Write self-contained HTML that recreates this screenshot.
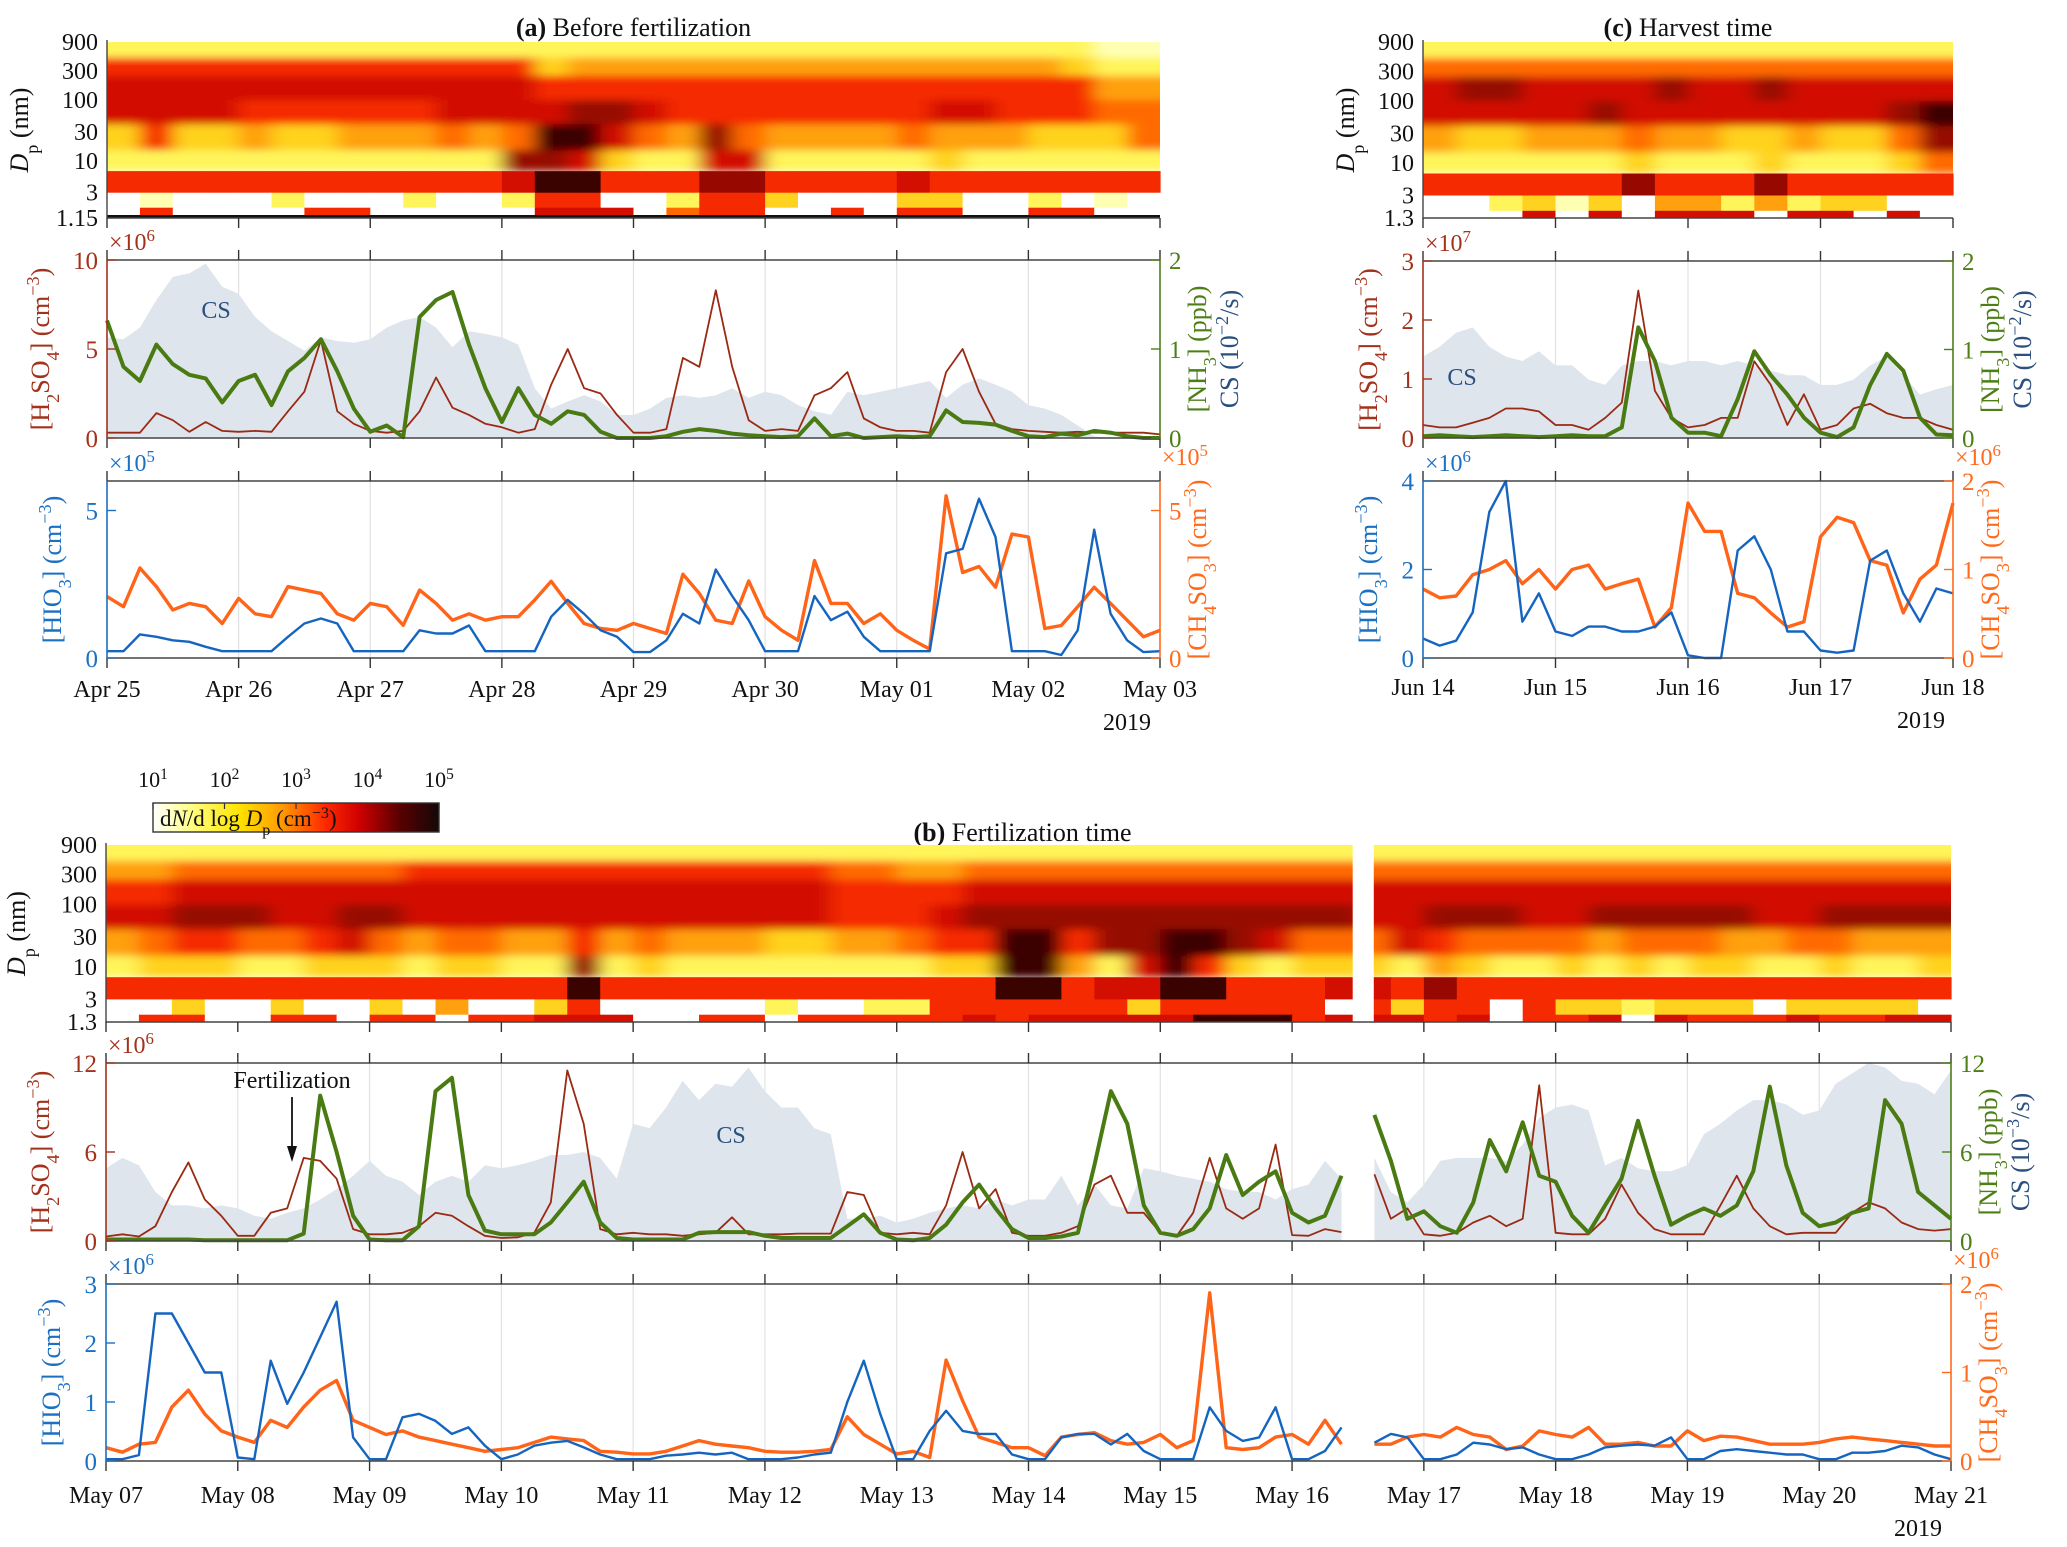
<!DOCTYPE html>
<html><head><meta charset="utf-8">
<style>
html,body{margin:0;padding:0;background:#fff;}
svg{display:block;font-family:"Liberation Serif",serif;}
</style></head>
<body>
<svg id="fig" width="2067" height="1547" viewBox="0 0 2067 1547" xmlns="http://www.w3.org/2000/svg"></svg>
<script>
// ---------- DATA (3-hourly samples) ----------
const A_labels=['Apr 25','Apr 26','Apr 27','Apr 28','Apr 29','Apr 30','May 01','May 02','May 03'];
const A_H2SO4=[0.3,0.3,0.3,1.4,1.0,0.35,0.9,0.4, 0.35,0.4,0.35,1.5,2.6,5.5,1.5,0.8, 0.4,0.3,0.4,1.5,3.4,1.7,1.3,0.8, 0.6,0.3,0.5,3.0,5.0,2.8,2.5,1.3, 0.3,0.3,0.5,4.5,4.0,8.3,4.0,1.0, 0.4,0.5,0.4,2.4,2.8,3.7,1.1,0.6, 0.4,0.4,0.3,3.7,5.0,2.6,0.8,0.5, 0.4,0.35,0.3,0.35,0.3,0.3,0.3,0.3,0.2];
const A_NH3=[1.32,0.8,0.64,1.05,0.83,0.71,0.67,0.4, 0.64,0.71,0.37,0.75,0.9,1.11,0.75,0.33, 0.07,0.14,0.01,1.36,1.55,1.64,1.05,0.56, 0.18,0.56,0.26,0.16,0.3,0.26,0.07,0, 0,0,0.02,0.07,0.1,0.08,0.05,0.03, 0.02,0.01,0.02,0.22,0.02,0.05,0,0.01, 0.02,0.01,0.02,0.31,0.18,0.17,0.15,0.08, 0.02,0.01,0.05,0.03,0.08,0.06,0.02,0,0];
const A_CS=[1.13,1.11,1.24,1.55,1.81,1.85,1.96,1.7, 1.62,1.36,1.2,1.09,0.98,1.13,1.09,1.07, 1.11,1.24,1.32,1.36,1.24,1.02,1.2,1.17, 1.13,1.05,0.56,0.33,0.41,0.48,0.41,0.26, 0.26,0.33,0.45,0.48,0.45,0.48,0.56,0.45, 0.52,0.48,0.37,0.3,0.26,0.52,0.48,0.52, 0.56,0.6,0.64,0.45,0.6,0.67,0.6,0.52, 0.37,0.33,0.26,0.14,0.02,0,0,0,0];
const A_HIO3=[0.23,0.23,0.8,0.72,0.6,0.55,0.38,0.23, 0.23,0.23,0.23,0.72,1.17,1.34,1.17,0.23, 0.23,0.23,0.23,0.94,0.83,0.83,1.1,0.23, 0.23,0.23,0.23,1.4,1.97,1.5,0.94,0.72, 0.2,0.2,0.6,1.5,1.17,3.0,2.1,1.28, 0.23,0.23,0.23,2.1,1.28,1.57,0.72,0.23, 0.23,0.23,0.23,3.55,3.7,5.4,4.1,0.23, 0.23,0.23,0.1,0.94,4.35,1.5,0.6,0.2,0.23];
const A_CH4SO3=[2.08,1.74,3.05,2.42,1.63,1.85,1.74,1.17, 2.02,1.5,1.4,2.42,2.3,2.19,1.5,1.28, 1.85,1.74,1.11,2.3,1.85,1.28,1.5,1.28, 1.4,1.4,1.97,2.6,1.85,1.17,1.0,0.94, 1.17,1.0,0.83,2.84,2.19,1.28,1.17,2.61, 1.4,0.94,0.6,3.3,1.85,1.85,1.17,1.5, 0.94,0.6,0.3,5.5,2.9,3.1,2.4,4.2, 4.1,1.0,1.1,1.74,2.4,1.85,1.28,0.72,0.94];
const A_HM=["22222222"+"22222222"+"22222222"+"22222211",
 "66666666"+"66666344"+"44444444"+"44444322",
 "77777777"+"77777666"+"66666666"+"66666644",
 "77776666"+"66777788"+"76666666"+"67766655",
 "36334334"+"44545997"+"54854444"+"54443335",
 "22222222"+"22228873"+"22772222"+"23222222",
 "66666666"+"66667996"+"66886666"+"76666666",
 "01000200"+"02002660"+"02663000"+"33002010",
 "06000066"+"00000777"+"05660060"+"66006600"];

const C_labels=['Jun 14','Jun 15','Jun 16','Jun 17','Jun 18'];
const C_H2SO4=[0.22,0.18,0.18,0.26,0.34,0.5,0.5,0.45, 0.22,0.22,0.14,0.34,0.6,2.5,0.8,0.34, 0.18,0.22,0.34,0.34,1.3,0.9,0.22,0.74, 0.14,0.22,0.5,0.58,0.42,0.34,0.34,0.22,0.14];
const C_NH3=[0.02,0.03,0.02,0.01,0.02,0.03,0.02,0.01, 0.02,0.03,0.02,0.02,0.12,1.25,0.87,0.23, 0.06,0.06,0.02,0.44,0.98,0.71,0.49,0.23, 0.06,0.01,0.12,0.6,0.95,0.76,0.23,0.04,0.03];
const C_CS=[0.92,1.03,1.19,1.25,1.03,0.92,0.87,0.98, 0.82,0.82,0.66,0.6,0.82,0.87,0.87,0.82, 0.87,0.87,0.82,0.87,0.82,0.76,0.71,0.71, 0.6,0.6,0.66,0.82,0.92,0.71,0.49,0.55,0.6];
const C_HIO3=[0.44,0.28,0.39,1.03,3.3,4.0,0.82,1.46, 0.6,0.5,0.71,0.71,0.6,0.6,0.71,1.03, 0.06,0,0,2.43,2.75,2.0,0.6,0.6, 0.17,0.12,0.17,2.2,2.43,1.46,0.82,1.57,1.46];
const C_CH4SO3=[0.78,0.68,0.7,0.94,1.0,1.1,0.84,1.0, 0.78,1.0,1.05,0.78,0.84,0.89,0.35,0.57, 1.75,1.43,1.43,0.73,0.68,0.51,0.35,0.41, 1.37,1.59,1.53,1.1,1.05,0.51,0.89,1.05,1.75];
const C_HM=["2222222222222222","5555555555555555","7887777877877777","7777787777777789","4334445443343358","2222223222322235","6666668666866666","0023130442423300","0007070777077070"];

const B_labels=['May 07','May 08','May 09','May 10','May 11','May 12','May 13','May 14','May 15','May 16','May 17','May 18','May 19','May 20','May 21'];
const B_H2SO4=[0.3,0.45,0.3,1.0,3.3,5.3,2.8,1.7, 0.35,0.35,1.9,2.2,5.6,5.4,4.2,0.8, 0.45,0.45,0.55,1.0,1.9,1.7,1.0,0.35, 0.2,0.25,0.55,2.6,11.5,7.9,0.8,0.45, 0.55,0.45,0.45,0.35,0.45,0.55,1.6,0.45, 0.45,0.45,0.5,0.5,0.5,3.3,3.1,0.55, 0.45,0.55,0.45,2.4,6.0,2.2,3.5,0.55, 0.35, 0.35,0.55,1.0,3.8,4.4,1.9,1.9, 0.55,0.35,1.9,5.6,2.2,1.5,2.2,6.5, 0.4,0.35,0.8,0.6,null,4.5,1.5,2.2, 0.45,0.35,0.55,1.25,1.7,1.0,1.5,10.5, 0.55,0.45,0.45,1.5,3.8,1.9,0.8,0.45, 0.45,0.45,2.4,4.4,2.2,1.0,0.45,0.55, 0.55,0.55,1.9,2.6,2.2,1.25,0.8,0.7,0.8];
const B_NH3=[0.1,0.1,0.1,0.1,0.1,0.1,0.05,0.05, 0.05,0.05,0.05,0.05,0.5,9.8,6.0,1.7, 0.1,0.05,0.05,1.0,10.1,11.0,3.1,0.7, 0.45,0.45,0.45,1.25,2.6,4.0,1.25,0.2, 0.1,0.1,0.1,0.1,0.55,0.6,0.6,0.6, 0.35,0.2,0.2,0.2,0.2,1.0,1.8,0.55, 0.1,0.05,0.2,1.1,2.6,3.8,2.2,0.8, 0.2, 0.2,0.3,0.55,5.1,10.1,7.9,2.4, 0.55,0.35,0.8,2.2,5.8,3.1,4.0,4.7, 1.9,1.25,1.7,4.4,null,8.5,5.4,1.5, 2.0,1.0,0.55,2.6,6.8,4.7,8.0,4.4, 4.0,1.7,0.55,2.4,4.2,8.1,4.4,1.1, 1.7,2.2,1.7,2.4,4.7,10.4,5.1,1.9, 1.0,1.25,1.9,2.2,9.5,7.9,3.3,2.4,1.5];
const B_CS=[4.9,5.6,5.1,3.3,2.4,2.4,2.2,2.4, 2.2,1.7,1.5,1.9,2.2,2.8,3.5,4.4, 5.4,4.4,4.0,3.1,4.0,4.4,4.0,5.1, 4.9,5.1,5.4,5.8,5.8,6.0,5.6,4.2, 7.9,7.6,9.0,10.8,9.5,10.6,10.4,11.7, 10.1,9.0,9.0,7.6,7.2,1.5,1.5,1.7, 1.25,1.5,1.9,2.2,2.4,2.2,2.8,2.4, 2.8, 2.8,4.4,2.4,3.8,2.4,2.2,4.9, 4.7,4.4,4.2,4.0,3.5,3.3,3.3,2.8, 3.5,3.8,5.4,4.2,null,5.6,3.3,2.6, 3.8,5.4,5.6,5.6,5.6,5.4,6.5,8.3, 9.0,9.2,8.8,5.1,5.6,4.9,4.7,4.7, 5.1,7.2,7.9,8.8,9.5,9.5,9.2,8.5, 8.8,10.6,11.3,12,11.7,10.8,10.6,9.9,11.5];
const B_HIO3=[0.03,0.03,0.1,2.5,2.5,2.0,1.5,1.5, 0.06,0.03,1.7,0.97,1.5,2.1,2.7,0.4, 0.03,0.03,0.74,0.8,0.68,0.46,0.57,0.26, 0.03,0.11,0.26,0.31,0.34,0.23,0.11,0.03, 0.03,0.03,0.09,0.11,0.14,0.11,0.14,0.03, 0.03,0.03,0.06,0.11,0.14,1.0,1.7,0.8, 0.03,0.03,0.51,0.85,0.51,0.46,0.46,0.11, 0.03, 0.03,0.4,0.46,0.46,0.28,0.46,0.17, 0.03,0.03,0.03,0.91,0.51,0.34,0.4,0.91, 0.03,0.03,0.17,0.57,null,0.31,0.46,0.4, 0.03,0.03,0.11,0.31,0.28,0.2,0.23,0.11, 0.03,0.03,0.11,0.23,0.26,0.28,0.26,0.4, 0.03,0.03,0.17,0.2,0.17,0.14,0.11,0.11, 0.03,0.03,0.14,0.14,0.17,0.26,0.23,0.11,0.03];
const B_CH4SO3=[0.15,0.1,0.19,0.21,0.61,0.8,0.53,0.34, 0.27,0.21,0.46,0.38,0.61,0.8,0.91,0.46, 0.38,0.3,0.34,0.27,0.23,0.19,0.15,0.11, 0.13,0.15,0.21,0.27,0.25,0.23,0.11,0.1, 0.08,0.08,0.11,0.17,0.23,0.19,0.17,0.15, 0.11,0.1,0.1,0.11,0.13,0.5,0.3,0.19, 0.08,0.11,0.04,1.14,0.68,0.27,0.21,0.15, 0.15, 0.06,0.27,0.3,0.32,0.23,0.19,0.21, 0.3,0.15,0.23,1.9,0.15,0.13,0.15,0.27, 0.3,0.19,0.46,0.19,null,0.19,0.19,0.27, 0.3,0.27,0.38,0.3,0.27,0.13,0.17,0.34, 0.3,0.27,0.38,0.19,0.19,0.21,0.17,0.17, 0.34,0.23,0.28,0.27,0.23,0.19,0.19,0.19, 0.21,0.25,0.27,0.25,0.23,0.21,0.19,0.17,0.17];
const B_HM=[
 "2222"+"2222"+"2222"+"2222"+"2222"+"2222"+"2222"+"2222"+"2222"+"2222"+"2222"+"2222"+"2222"+"2222",
 "4455"+"5555"+"5666"+"6666"+"6666"+"6655"+"4455"+"5555"+"5555"+"5555"+"5555"+"5555"+"5555"+"5555",
 "6677"+"7777"+"7777"+"7777"+"7777"+"7766"+"6677"+"7777"+"7777"+"7777"+"7777"+"7777"+"7777"+"7777",
 "7788"+"8778"+"8777"+"7777"+"7777"+"7766"+"6788"+"8888"+"8888"+"8877"+"8887"+"7888"+"8877"+"8888",
 "4566"+"5567"+"5455"+"4464"+"5444"+"3344"+"5669"+"9688"+"9987"+"5557"+"6555"+"5455"+"5445"+"5444",
 "2333"+"2233"+"3233"+"2282"+"3222"+"2222"+"2339"+"9427"+"9632"+"3332"+"4322"+"3232"+"3322"+"3223",
 "6666"+"6666"+"6666"+"6696"+"6666"+"6666"+"6669"+"9677"+"9966"+"6776"+"8666"+"6666"+"6666"+"6666",
 "0030"+"0300"+"3040"+"0360"+"0000"+"2002"+"2666"+"6663"+"6666"+"6063"+"6606"+"3323"+"3303"+"3330",
 "0660"+"0660"+"6606"+"6777"+"0066"+"0666"+"6676"+"7777"+"7999"+"6777"+"6706"+"6707"+"6667"+"6677"];
const B_gap=[9.46,9.62];
const cbTicks=['1','2','3','4','5'];

// ---------- RENDERING ----------
const NS='http://www.w3.org/2000/svg';
const svg=document.getElementById('fig');
const COL={H:'#a3321c',N:'#4d7f17',CS:'#2b5080',CSF:'#dfe5ec',I:'#1b70c2',M:'#ff6b1c'};
const HMC=['#ffffff','#ffffb4','#fff55a','#ffd21f','#ffa00f','#ff6a00','#f52a00','#d20f00','#960800','#3a0300'];
const SIZE_EDGES=[900,500,250,100,40,15,6.8,3,1.7];
function mk(tag,attrs,parent){const e=document.createElementNS(NS,tag);for(const k in attrs)e.setAttribute(k,attrs[k]);(parent||svg).appendChild(e);return e;}
function rich(s){return s.replace(/<sub>(.*?)<\/sub>/g,'<tspan baseline-shift="sub" font-size="70%">$1</tspan>').replace(/<sup>(.*?)<\/sup>/g,'<tspan baseline-shift="super" font-size="70%">$1</tspan>').replace(/<i>(.*?)<\/i>/g,'<tspan font-style="italic">$1</tspan>');}
function txt(x,y,s,o,parent){o=o||{};const a={x:x,y:y,'font-size':o.size||24,fill:o.fill||'#111','text-anchor':o.anchor||'middle'};if(o.rot)a.transform='rotate(-90 '+x+' '+y+')';if(o.weight)a['font-weight']=o.weight;const t=mk('text',a,parent);t.innerHTML=rich(s);return t;}
function linePath(vals,X,Y){let d='',pen=false;vals.forEach((v,i)=>{if(v===null){pen=false;return;}d+=(pen?'L':'M')+X(i).toFixed(1)+' '+Y(v).toFixed(1);pen=true;});return d;}
function areaPath(vals,X,Y,y0){let d='',seg=[];const flush=()=>{if(seg.length){d+='M'+X(seg[0]).toFixed(1)+' '+y0;seg.forEach(i=>d+='L'+X(i).toFixed(1)+' '+Y(vals[i]).toFixed(1));d+='L'+X(seg[seg.length-1]).toFixed(1)+' '+y0+'Z';}seg=[];};vals.forEach((v,i)=>{if(v===null)flush();else seg.push(i);});flush();return d;}
const defs=mk('defs',{});
const flt=mk('filter',{id:'hmblur',x:'-5%',y:'-5%',width:'110%',height:'110%'},defs);
mk('feGaussianBlur',{stdDeviation:'9 4'},flt);
let pid=0;

function panel(P){
  pid++;
  const g=mk('g',{});
  
  
  const X=d=>P.x0+d/P.days*(P.x1-P.x0);
  const Xi=i=>X(i/8);
  const tt=txt((P.x0+P.x1)/2+P.titleDx,P.titleY,'',{size:26},g);
  tt.innerHTML='<tspan font-weight="bold">'+P.tag+'</tspan> '+P.title;
  
  
  const lmin=Math.log10(P.hmMin),lmax=Math.log10(900);
  const YH=v=>P.hmBot-(Math.log10(v)-lmin)/(lmax-lmin)*(P.hmBot-P.hmTop);
  const hmg=mk('g',{},g);
  
  
  const cp=mk('clipPath',{id:'hmclip'+pid},defs);
  mk('rect',{x:P.x0,y:P.hmTop,width:P.x1-P.x0,height:YH(6.8)-P.hmTop},cp);
  const upper=mk('g',{'clip-path':'url(#hmclip'+pid+')'},hmg);
  const upperIn=mk('g',{filter:'url(#hmblur)'},upper);
  const nb=P.hm[0].length, bd=P.days/nb;
  P.hm.forEach((row,r)=>{
    const yt=YH(SIZE_EDGES[r]), yb=(r+1<SIZE_EDGES.length)?YH(SIZE_EDGES[r+1]):P.hmBot;
    const par=r<6?upperIn:hmg;
    for(let j=0;j<nb;j++){
      const ex=r<6&&j===0?-20:0, ex2=r<6&&j===nb-1?20:0, ey=r===0?-15:0;
      const c=mk('rect',{x:(X(j*bd)+ex).toFixed(1),y:(yt+ey).toFixed(1),width:(X((j+1)*bd)-X(j*bd)+0.6-ex+ex2).toFixed(1),height:(yb-yt+0.4-ey).toFixed(1),fill:HMC[+row[j]]},par);
      
      
    }
  });
  if(P.gap){const gr=mk('rect',{x:X(P.gap[0]),y:P.hmTop-4,width:X(P.gap[1])-X(P.gap[0]),height:P.hmBot-P.hmTop+4,fill:'#fff'},hmg);
    
    }
  if(P.blackBase){const bl=mk('rect',{x:P.x0,y:P.hmBot-3,width:P.x1-P.x0,height:3,fill:'#111'},hmg);
    
    }
  const hax=mk('path',{d:'M'+P.x0+' '+(P.hmTop-2)+'V'+P.hmBot+'H'+P.x1,stroke:'#444','stroke-width':1.4,fill:'none'},g);
  
  
  P.hmTicks.forEach(v=>{
    const t=txt(P.x0-9,YH(v)+8,String(v),{size:24,anchor:'end'},g);
    
    
  });
  const dl=txt(P.x0-P.dpOff,(P.hmTop+P.hmBot)/2,'<i>D</i><sub>p</sub> (nm)',{size:26,rot:true},g);
  
  
  const tk=(y,dir)=>{for(let d=0;d<=P.days;d++){const l=mk('line',{x1:X(d),x2:X(d),y1:y,y2:y+dir*10,stroke:'#333','stroke-width':1.4},g);
    
    }};
  tk(P.hmBot,1);
  function axes(top,bot,left,right){
    const h=bot-top;
    for(let d=1;d<P.days;d++){const gl=mk('line',{x1:X(d),x2:X(d),y1:top,y2:bot,stroke:'#e2e2e2','stroke-width':1.2},g);
      
      }
    if(left.area){const YC=v=>bot-v/left.areaMax*h;const ar=mk('path',{d:areaPath(left.area,Xi,YC,bot),fill:COL.CSF},g);
      
      
      const cl=txt(left.areaLbl[0],left.areaLbl[1],'CS',{size:24,fill:COL.CS},g);
      
      }
    const YL=v=>bot-v/left.max*h, YR=v=>bot-v/right.max*h;
    const p1=mk('path',{d:linePath(left.vals,Xi,YL),stroke:left.col,'stroke-width':left.w,fill:'none','stroke-linejoin':'round'},g);
    
    
    const p2=mk('path',{d:linePath(right.vals,Xi,YR),stroke:right.col,'stroke-width':right.w,fill:'none','stroke-linejoin':'round'},g);
    
    
    if(left.front){g.appendChild(p1);}
    const fr=mk('line',{x1:P.x0,x2:P.x1,y1:top,y2:top,stroke:'#444','stroke-width':1.6},g);
    
    
    const fb=mk('line',{x1:P.x0,x2:P.x1,y1:bot,y2:bot,stroke:'#444','stroke-width':1.6},g);
    
    
    const la=mk('line',{x1:P.x0,x2:P.x0,y1:top,y2:bot,stroke:left.acol,'stroke-width':1.6},g);
    
    
    const ra=mk('line',{x1:P.x1,x2:P.x1,y1:top,y2:bot,stroke:right.acol,'stroke-width':1.6},g);
    
    
    tk(top,-1);tk(bot,1);
    left.ticks.forEach(v=>{const y=YL(v);
      const t1=mk('line',{x1:P.x0,x2:P.x0+9,y1:y,y2:y,stroke:left.acol,'stroke-width':1.4},g);
      
      
      const tl=txt(P.x0-9,y+9,String(v),{size:25,anchor:'end',fill:left.acol},g);
      
      });
    right.ticks.forEach(v=>{const y=YR(v);
      const t1=mk('line',{x1:P.x1,x2:P.x1-9,y1:y,y2:y,stroke:right.acol,'stroke-width':1.4},g);
      
      
      const tl=txt(P.x1+9,y+9,String(v),{size:25,anchor:'start',fill:right.acol},g);
      
      });
    const e1=txt(P.x0+2,top-10,'×10<sup>'+left.exp+'</sup>',{size:24,anchor:'start',fill:left.acol},g);
    
    
    if(right.exp){const e2=txt(P.x1+2,top-16,'×10<sup>'+right.exp+'</sup>',{size:24,anchor:'start',fill:right.acol},g);
      
      }
    const ll=txt(P.x0-left.off,(top+bot)/2,left.label,{size:26,rot:true,fill:left.acol},g);
    
    
    right.labels.forEach(L=>{const rl=txt(P.x1+L.off,(top+bot)/2,L.s,{size:26,rot:true,fill:L.c},g);
      
      });
  }
  axes(P.l1[0],P.l1[1],
    {vals:P.H,max:P.Hmax,ticks:P.Hticks,exp:P.Hexp,col:'#9a2a14',acol:COL.H,w:1.8,name:'h2so4',label:'[H<sub>2</sub>SO<sub>4</sub>] (cm<sup>−3</sup>)',off:P.lOff,area:P.CS,areaMax:P.CSmax,areaLbl:P.csLbl,front:false},
    {vals:P.N,max:P.Nmax,ticks:P.Nticks,col:'#4a7a12',acol:COL.N,w:4,name:'nh3',labels:[{s:'[NH<sub>3</sub>] (ppb)',c:COL.N,off:46,n:'nh3'},{s:'CS (10<sup>'+P.csExp+'</sup>/s)',c:COL.CS,off:78,n:'cs'}]});
  axes(P.l2[0],P.l2[1],
    {vals:P.I,max:P.Imax,ticks:P.Iticks,exp:P.Iexp,col:'#1565c0',acol:COL.I,w:2.4,name:'hio3',label:'[HIO<sub>3</sub>] (cm<sup>−3</sup>)',off:P.l2Off,front:true},
    {vals:P.M,max:P.Mmax,ticks:P.Mticks,exp:P.Mexp,col:'#ff6419',acol:COL.M,w:3.4,name:'ch4so3',labels:[{s:'[CH<sub>4</sub>SO<sub>3</sub>] (cm<sup>−3</sup>)',c:COL.M,off:46,n:'ch4so3'}]});
  P.labels.forEach((s,d)=>{const t=txt(X(d),P.tickY,s,{size:24},g);
    
    });
  const yr=txt(P.yearX,P.tickY+33,'2019',{size:24},g);
  
  
  return {g,X};
}

panel({name:'panel-a-before-fertilization',tag:'(a)',title:'Before fertilization',titleDx:0,titleY:36,x0:107,x1:1160,days:8,labels:A_labels,
  hmTop:42,hmBot:218,hmMin:1.15,hmTicks:[900,300,100,30,10,3,1.15],hm:A_HM,blackBase:true,dpOff:79,
  l1:[260,438],l2:[481,658],H:A_H2SO4,Hmax:10,Hticks:[0,5,10],Hexp:'6',N:A_NH3,Nmax:2,Nticks:[0,1,2],CS:A_CS,CSmax:2,csLbl:[216,318],csExp:'−2',
  I:A_HIO3,Imax:6,Iticks:[0,5],Iexp:'5',M:A_CH4SO3,Mmax:6,Mticks:[0,5],Mexp:'5',lOff:58,l2Off:46,tickY:697,yearX:1127});
panel({name:'panel-c-harvest-time',tag:'(c)',title:'Harvest time',titleDx:0,titleY:36,x0:1423,x1:1953,days:4,labels:C_labels,
  hmTop:42,hmBot:218,hmMin:1.3,hmTicks:[900,300,100,30,10,3,1.3],hm:C_HM,dpOff:69,
  l1:[261,438],l2:[481,658],H:C_H2SO4,Hmax:3,Hticks:[0,1,2,3],Hexp:'7',N:C_NH3,Nmax:2,Nticks:[0,1,2],CS:C_CS,CSmax:2,csLbl:[1462,385],csExp:'−2',
  I:C_HIO3,Imax:4,Iticks:[0,2,4],Iexp:'6',M:C_CH4SO3,Mmax:2,Mticks:[0,1,2],Mexp:'6',lOff:46,l2Off:46,tickY:695,yearX:1921});
panel({name:'panel-b-fertilization-time',tag:'(b)',title:'Fertilization time',titleDx:-6,titleY:841,x0:106,x1:1951,days:14,labels:B_labels,
  hmTop:845,hmBot:1022,hmMin:1.3,hmTicks:[900,300,100,30,10,3,1.3],hm:B_HM,gap:B_gap,dpOff:81,
  l1:[1063,1241],l2:[1284,1461],H:B_H2SO4,Hmax:12,Hticks:[0,6,12],Hexp:'6',N:B_NH3,Nmax:12,Nticks:[0,6,12],CS:B_CS,CSmax:12,csLbl:[731,1143],csExp:'−3',
  I:B_HIO3,Imax:3,Iticks:[0,1,2,3],Iexp:'6',M:B_CH4SO3,Mmax:2,Mticks:[0,1,2],Mexp:'6',lOff:57,l2Off:46,tickY:1503,yearX:1918});

const fa=txt(292,1088,'Fertilization',{size:24});


const ar=mk('path',{d:'M292 1097V1150',stroke:'#111','stroke-width':1.8});


const ah=mk('path',{d:'M287 1146L292 1162L297 1146Z',fill:'#111'});



const lg=mk('linearGradient',{id:'cbg',x1:0,x2:1,y1:0,y2:0},defs);
[['0','#ffffff'],['0.12','#ffff90'],['0.3','#ffe400'],['0.45','#ff9a00'],['0.6','#ff2a00'],['0.72','#d00000'],['0.86','#5a0000'],['1','#140808']].forEach(s=>mk('stop',{offset:s[0],'stop-color':s[1]},lg));
const cb=mk('rect',{x:153,y:803,width:286,height:29,fill:'url(#cbg)',stroke:'#333','stroke-width':1.4});


cbTicks.forEach((e,k)=>{const x=153+k*286/(cbTicks.length-1);
  const tl=mk('line',{x1:x,x2:x,y1:803,y2:809,stroke:'#333','stroke-width':1.2});
  
  
  const t=txt(x,787,'10<sup>'+e+'</sup>',{size:22});
  
  });
const cbl=txt(160,826,'d<i>N</i>/d log <i>D</i><sub>p</sub> (cm<sup>−3</sup>)',{size:23,anchor:'start'});


</script>
</body></html>
